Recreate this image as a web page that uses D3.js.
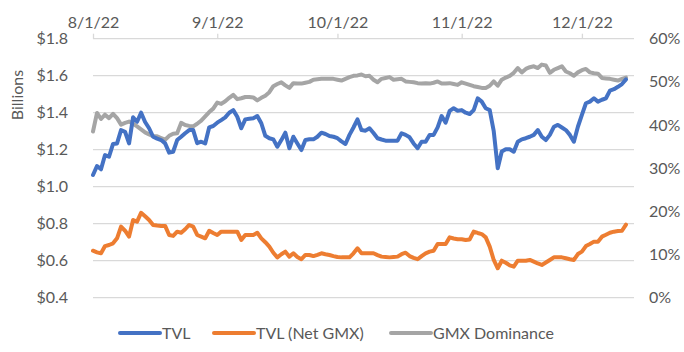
<!DOCTYPE html>
<html>
<head>
<meta charset="utf-8">
<script src="https://cdn.jsdelivr.net/npm/d3@7"></script>
<style>
  body { margin: 0; background: #fff; }
  text { font-family: Lato, "Open Sans", sans-serif; fill: #595959; }
</style>
</head>
<body>
<div id="chart"></div>
<script>
// daily readings, first day 8/1/22
const startDate = new Date(2022, 7, 1)
const endDate = new Date(2022, 11, 14)

const tvl = [
  1.063, 1.112, 1.094, 1.171, 1.162, 1.231, 1.234, 1.306, 1.297, 1.234,
  1.375, 1.351, 1.400, 1.350, 1.316, 1.270, 1.260, 1.252, 1.234, 1.184,
  1.189, 1.252, 1.270, 1.289, 1.306, 1.306, 1.235, 1.243, 1.234, 1.321,
  1.328, 1.346, 1.360, 1.375, 1.400, 1.414, 1.378, 1.316, 1.364, 1.367,
  1.370, 1.382, 1.343, 1.275, 1.262, 1.256, 1.216, 1.252, 1.292, 1.208,
  1.270, 1.234, 1.198, 1.252, 1.256, 1.256, 1.270, 1.292, 1.285, 1.274,
  1.270, 1.262, 1.245, 1.231, 1.280, 1.320, 1.364, 1.306, 1.303, 1.316,
  1.290, 1.262, 1.255, 1.249, 1.249, 1.249, 1.249, 1.289, 1.280, 1.267,
  1.234, 1.208, 1.243, 1.243, 1.280, 1.280, 1.321, 1.382, 1.346, 1.410,
  1.424, 1.411, 1.414, 1.400, 1.393, 1.414, 1.478, 1.460, 1.424, 1.414,
  1.300, 1.100, 1.190, 1.202, 1.202, 1.189, 1.243, 1.256, 1.262, 1.270,
  1.280, 1.306, 1.270, 1.252, 1.280, 1.324, 1.334, 1.320, 1.306, 1.280,
  1.243, 1.324, 1.388, 1.451, 1.460, 1.478, 1.460, 1.470, 1.478, 1.519,
  1.527, 1.540, 1.555, 1.580
]

const tvlNetGmx = [
  0.654, 0.645, 0.640, 0.679, 0.685, 0.694, 0.721, 0.784, 0.762, 0.730,
  0.820, 0.811, 0.859, 0.840, 0.820, 0.793, 0.790, 0.788, 0.788, 0.739,
  0.734, 0.757, 0.751, 0.770, 0.793, 0.784, 0.739, 0.730, 0.721, 0.762,
  0.750, 0.739, 0.757, 0.757, 0.757, 0.757, 0.757, 0.712, 0.739, 0.739,
  0.739, 0.751, 0.721, 0.700, 0.676, 0.643, 0.618, 0.635, 0.649, 0.622,
  0.640, 0.620, 0.608, 0.631, 0.631, 0.625, 0.632, 0.640, 0.635, 0.631,
  0.625, 0.620, 0.618, 0.618, 0.618, 0.640, 0.667, 0.640, 0.640, 0.640,
  0.640, 0.630, 0.622, 0.620, 0.618, 0.620, 0.622, 0.635, 0.643, 0.625,
  0.615, 0.608, 0.625, 0.640, 0.649, 0.654, 0.690, 0.690, 0.690, 0.726,
  0.720, 0.716, 0.716, 0.712, 0.715, 0.757, 0.750, 0.744, 0.726, 0.676,
  0.604, 0.559, 0.600, 0.589, 0.575, 0.568, 0.600, 0.600, 0.600, 0.604,
  0.595, 0.585, 0.577, 0.590, 0.604, 0.618, 0.618, 0.618, 0.613, 0.608,
  0.604, 0.636, 0.649, 0.679, 0.690, 0.703, 0.703, 0.730, 0.740, 0.751,
  0.757, 0.760, 0.762, 0.795
]

// percent
const gmxDominance = [
  38.5, 42.8, 41.4, 42.4, 41.6, 42.6, 41.6, 40.1, 40.5, 40.8,
  40.3, 39.7, 39.0, 38.3, 37.8, 37.4, 37.4, 37.0, 36.6, 37.5,
  38.0, 38.1, 40.5, 40.0, 39.8, 39.7, 40.3, 41.0, 42.0, 43.0,
  43.8, 45.2, 44.9, 45.5, 46.3, 47.0, 46.0, 46.2, 46.5, 46.5,
  46.4, 45.7, 46.3, 46.8, 47.6, 49.0, 49.5, 49.9, 49.2, 48.6,
  49.7, 49.6, 49.6, 49.8, 50.0, 50.5, 50.6, 50.7, 50.7, 50.7,
  50.7, 50.5, 50.3, 50.7, 51.1, 51.4, 51.5, 51.7, 51.3, 51.4,
  50.5, 49.9, 50.7, 50.9, 51.1, 50.5, 50.6, 50.7, 50.1, 50.0,
  49.9, 49.7, 49.6, 49.7, 49.6, 49.8, 50.1, 49.6, 49.6, 49.7,
  49.5, 49.3, 49.9, 49.6, 49.3, 49.0, 48.8, 48.6, 48.6, 49.1,
  50.1, 49.1, 50.5, 51.0, 51.4, 52.1, 53.2, 52.2, 53.0, 53.4,
  53.6, 53.2, 54.0, 53.8, 52.1, 52.8, 53.2, 53.6, 52.4, 52.0,
  51.4, 52.2, 52.7, 53.0, 52.2, 52.0, 51.9, 50.9, 50.8, 50.7,
  50.5, 50.3, 50.7, 51.0
]

const leftTicks = [0.4, 0.6, 0.8, 1.0, 1.2, 1.4, 1.6, 1.8]
const rightTicks = [0, 10, 20, 30, 40, 50, 60]
const seriesNames = ["TVL", "TVL (Net GMX)", "GMX Dominance"]
const seriesColors = ["#4472c4", "#ed7d31", "#a5a5a5"]

const width = 684, height = 352
const plotL = 93, plotR = 634, plotT = 38.7, plotB = 297.7

const svg = d3.select("#chart").append("svg")
  .attr("width", width)
  .attr("height", height)

const x = d3.scaleTime().domain([startDate, endDate]).range([plotL, plotR])
const yL = d3.scaleLinear().domain([0.4, 1.8]).range([plotB, plotT])
const yR = d3.scaleLinear().domain([0, 60]).range([plotB, plotT])

const day = i => d3.timeDay.offset(startDate, i)

// gridlines
svg.append("g")
  .selectAll("line")
  .data(leftTicks).enter().append("line")
  .attr("x1", plotL)
  .attr("x2", plotR)
  .attr("y1", d => yL(d))
  .attr("y2", d => yL(d))
  .attr("stroke", "#d9d9d9")
  .attr("stroke-width", 1.3)

// top date axis
const xAxis = svg.append("g")
  .attr("transform", `translate(0, ${plotT})`)
  .call(d3.axisTop(x)
    .ticks(d3.timeMonth.every(1))
    .tickFormat(d3.timeFormat("%-m/%-d/%y"))
    .tickSize(5)
    .tickPadding(6))
xAxis.select(".domain").remove()
xAxis.selectAll(".tick line").attr("stroke", "#d9d9d9").attr("stroke-width", 1.3)
xAxis.selectAll("text").style("font-size", "16px").attr("fill", "#595959")
  .style("font-family", "Lato, sans-serif")

const yAxisL = svg.append("g")
  .attr("transform", `translate(${plotL - 22}, 0)`)
  .call(d3.axisLeft(yL).tickValues(leftTicks).tickSize(0)
    .tickFormat(d => "$" + d.toFixed(1)))
yAxisL.select(".domain").remove()
yAxisL.selectAll("text").style("font-size", "16px").attr("fill", "#595959")
  .style("font-family", "Lato, sans-serif")

const yAxisR = svg.append("g")
  .attr("transform", `translate(${plotR + 12}, 0)`)
  .call(d3.axisRight(yR).tickValues(rightTicks).tickSize(0)
    .tickFormat(d => d + "%"))
yAxisR.select(".domain").remove()
yAxisR.selectAll("text").style("font-size", "16px").attr("fill", "#595959")
  .style("font-family", "Lato, sans-serif")

svg.append("text")
  .attr("transform", "translate(23, 95) rotate(-90)")
  .attr("text-anchor", "middle")
  .style("font-size", "16px")
  .text("Billions")

const lineL = d3.line().x((d, i) => x(day(i))).y(d => yL(d))
const lineR = d3.line().x((d, i) => x(day(i))).y(d => yR(d))

const draw = (path, color) =>
  svg.append("path")
    .attr("d", path)
    .attr("fill", "none")
    .attr("stroke", color)
    .attr("stroke-width", 4)
    .attr("stroke-linejoin", "round")
    .attr("stroke-linecap", "round")

draw(lineR(gmxDominance), seriesColors[2])
draw(lineL(tvlNetGmx), seriesColors[1])
draw(lineL(tvl), seriesColors[0])

// legend
const legendX = [120, 214, 391]
const legend = svg.append("g")
  .selectAll("g")
  .data(seriesNames).enter().append("g")
  .attr("transform", (d, i) => `translate(${legendX[i]}, 333)`)
legend.append("line")
  .attr("x1", 0).attr("x2", 40)
  .attr("stroke", (d, i) => seriesColors[i])
  .attr("stroke-width", 4)
  .attr("stroke-linecap", "round")
legend.append("text")
  .attr("x", 42)
  .attr("dy", "0.35em")
  .style("font-size", "16px")
  .text(d => d)
</script>
</body>
</html>
